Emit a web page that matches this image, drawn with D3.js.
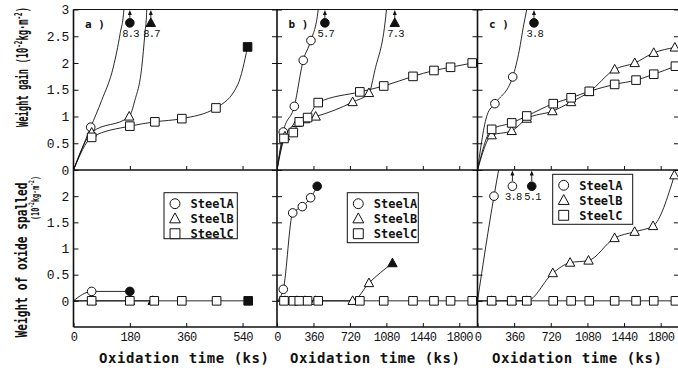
<!DOCTYPE html>
<html>
<head>
<meta charset="utf-8">
<script src="https://cdn.jsdelivr.net/npm/d3@7/dist/d3.min.js"></script>
<style>
  body { margin: 0; background: #fff; }
  svg { display: block; }
</style>
</head>
<body>
<svg id="chart" width="678" height="372"></svg>
<script>
// time in ks, weights in 10^-2 kg/m^2
const steels = ["SteelA", "SteelB", "SteelC"];
const gainTicks = [0, 0.5, 1, 1.5, 2, 2.5, 3];
const spallTicks = [0, 0.5, 1, 1.5, 2];
const timeTicksA = [0, 180, 360, 540];
const timeTicksBC = [0, 360, 720, 1080, 1440, 1800];

// "curve" = points read along the drawn line where there is no marker
// "off" = final point above the scale (value printed next to it)

// a) weight gain
const aGainA = [[55, 0.80]];
const aGainA_curve = [[90, 1.30], [127, 1.92], [149, 2.55], [161, 3.0]];
const aGainA_off = [[180, 8.3]];
const aGainB = [[58, 0.70], [178, 1.00]];
const aGainB_curve = [[196, 1.30], [218, 1.92], [228, 2.55], [234, 3.0]];
const aGainB_off = [[247, 8.7]];
const aGainC = [[58, 0.61], [180, 0.82], [260, 0.90], [346, 0.96], [455, 1.16]];
const aGainC_curve = [[525, 1.60]];
const aGainC_end = [[556, 2.30]];
// a) oxide spalled
const aSpallA = [[58, 0.18]];
const aSpallA_end = [[180, 0.18]];
const aSpallB = [[58, 0], [180, 0]];
const aSpallB_end = [[253, 0]];
const aSpallC = [[58, 0], [180, 0], [258, 0], [346, 0], [457, 0]];
const aSpallC_end = [[558, 0]];

// b) weight gain
const bGainA = [[62, 0.71], [171, 1.19], [259, 2.05], [335, 2.42]];
const bGainA_curve = [[407, 3.0]];
const bGainA_off = [[473, 5.7]];
const bGainB = [[79, 0.63], [197, 0.88], [276, 0.95], [382, 1.00], [747, 1.27], [908, 1.44]];
const bGainB_curve = [[966, 1.86], [1081, 3.0]];
const bGainB_off = [[1163, 7.3]];
const bGainC = [[69, 0.59], [161, 0.70], [220, 0.90], [302, 0.98], [407, 1.26], [818, 1.46],
  [1054, 1.57], [1343, 1.75], [1550, 1.86], [1714, 1.92], [1928, 2.00]];
// b) oxide spalled
const bSpallA = [[62, 0.22], [155, 1.68], [250, 1.80], [332, 1.97]];
const bSpallA_end = [[397, 2.19]];
const bSpallB = [[79, 0], [197, 0], [276, 0], [382, 0], [747, 0], [908, 0.34]];
const bSpallB_end = [[1140, 0.72]];
const bSpallC = [[69, 0], [161, 0], [220, 0], [302, 0], [407, 0], [818, 0],
  [1054, 0], [1343, 0], [1550, 0], [1714, 0], [1928, 0]];
const bSpallC_curve = [[1980, 0]];

// c) weight gain
const cGainA = [[171, 1.24], [346, 1.74]];
const cGainA_curve = [[95, 1.03], [411, 2.24], [450, 2.67], [484, 3.0]];
const cGainA_off = [[555, 3.8]];
const cGainB = [[139, 0.65], [336, 0.73], [484, 0.96], [736, 1.10], [920, 1.27], [1098, 1.46],
  [1348, 1.88], [1545, 2.00], [1732, 2.19], [1939, 2.29]];
const cGainC = [[139, 0.76], [336, 0.88], [484, 1.01], [744, 1.24], [920, 1.35], [1098, 1.47],
  [1348, 1.60], [1558, 1.68], [1732, 1.79], [1945, 1.94]];
// c) oxide spalled
const cSpallA = [[162, 2.0]];
const cSpallA_offOpen = [[343, 3.8]];
const cSpallA_off = [[533, 5.1]];
const cSpallB = [[139, 0], [336, 0], [484, 0], [740, 0.53], [910, 0.73], [1091, 0.77],
  [1347, 1.20], [1544, 1.32], [1725, 1.43], [1935, 2.40]];
const cSpallC = [[139, 0], [336, 0], [484, 0], [744, 0], [920, 0], [1098, 0],
  [1348, 0], [1558, 0], [1732, 0], [1945, 0]];
const cSpallC_curve = [[1980, 0]];

// level where off-scale points are parked
const offLevel = { gain: 2.75, spall: 2.19 };

const series = [
  { panel: "a", row: "gain", steel: 0, open: aGainA, curve: aGainA_curve, off: aGainA_off },
  { panel: "a", row: "gain", steel: 1, open: aGainB, curve: aGainB_curve, off: aGainB_off },
  { panel: "a", row: "gain", steel: 2, open: aGainC, curve: aGainC_curve, end: aGainC_end },
  { panel: "a", row: "spall", steel: 0, open: aSpallA, end: aSpallA_end },
  { panel: "a", row: "spall", steel: 1, open: aSpallB, end: aSpallB_end },
  { panel: "a", row: "spall", steel: 2, open: aSpallC, end: aSpallC_end },
  { panel: "b", row: "gain", steel: 0, open: bGainA, curve: bGainA_curve, off: bGainA_off },
  { panel: "b", row: "gain", steel: 1, open: bGainB, curve: bGainB_curve, off: bGainB_off },
  { panel: "b", row: "gain", steel: 2, open: bGainC },
  { panel: "b", row: "spall", steel: 0, open: bSpallA, end: bSpallA_end },
  { panel: "b", row: "spall", steel: 1, open: bSpallB, end: bSpallB_end },
  { panel: "b", row: "spall", steel: 2, open: bSpallC, curve: bSpallC_curve },
  { panel: "c", row: "gain", steel: 0, open: cGainA, curve: cGainA_curve, off: cGainA_off },
  { panel: "c", row: "gain", steel: 1, open: cGainB },
  { panel: "c", row: "gain", steel: 2, open: cGainC },
  { panel: "c", row: "spall", steel: 0, open: cSpallA, offOpen: cSpallA_offOpen, off: cSpallA_off },
  { panel: "c", row: "spall", steel: 1, open: cSpallB },
  { panel: "c", row: "spall", steel: 2, open: cSpallC, curve: cSpallC_curve },
];

// ---- layout ----
const ink = "#111";
const monoFont = "'Liberation Mono', 'DejaVu Sans Mono', monospace";
const boldFont = "'DejaVu Sans Mono', monospace";

const panels = [
  { key: "a", left: 73.5, right: 277, tmax: 650, ticks: timeTicksA, titleX: 184,
    legend: { x: 164, y: 192.7, w: 73.3, h: 46 } },
  { key: "b", left: 277, right: 477.5, tmax: 1980, ticks: timeTicksBC, titleX: 375,
    legend: { x: 347.3, y: 192.7, w: 71, h: 50 } },
  { key: "c", left: 477.5, right: 679, tmax: 1980, ticks: timeTicksBC, titleX: 577,
    legend: { x: 552.7, y: 174.3, w: 80, h: 50 } },
];
panels.forEach(p => {
  p.x = d3.scaleLinear().domain([0, p.tmax]).range([p.left, p.right]);
});
const panelBy = Object.fromEntries(panels.map(p => [p.key, p]));

const yScale = {
  gain: d3.scaleLinear().domain([0, 3]).range([170, 9.5]),
  spall: d3.scaleLinear().domain([-0.5, 2.5]).range([327, 170]),
};

const svg = d3.select("#chart");

function shapePath(k, s = 1) {
  if (k === 0) {
    const r = 4.3 * s;
    return `M${r},0A${r},${r} 0 1,1 ${-r},0A${r},${r} 0 1,1 ${r},0Z`;
  }
  if (k === 1) {
    const h = 4.7 * s;
    return `M0,${-5 * s}L${h},${3.6 * s}L${-h},${3.6 * s}Z`;
  }
  const a = 4.3 * s;
  return `M${-a},${-a}H${a}V${a}H${-a}Z`;
}

// clip paths
const defs = svg.append("defs");
panels.forEach(p => {
  ["gain", "spall"].forEach(row => {
    const r = yScale[row].range();
    defs.append("clipPath").attr("id", `clip-${p.key}-${row}`)
      .append("rect")
      .attr("x", p.left).attr("y", r[1])
      .attr("width", p.right - p.left).attr("height", r[0] - r[1]);
  });
});

// ---- axes / ticks ----
panels.forEach((p, i) => {
  const inner = p.ticks.filter(t => t > 0);

  // bottom of weight-gain plot
  svg.append("g")
    .attr("transform", `translate(0,${yScale.gain(0)})`)
    .call(d3.axisBottom(p.x).tickValues(inner).tickSize(-4).tickFormat(""));

  // bottom of spall plot, labelled
  svg.append("g")
    .attr("class", "xlab")
    .attr("transform", `translate(0,${yScale.spall(-0.5)})`)
    .call(d3.axisBottom(p.x).tickValues(p.ticks).tickSize(-4).tickPadding(5)
      .tickFormat(d3.format("d")));

  ["gain", "spall"].forEach(row => {
    const vals = row === "gain" ? gainTicks : spallTicks;
    const left = d3.axisLeft(yScale[row]).tickValues(vals).tickSize(-5);
    if (i === 0) left.tickPadding(4.5).tickFormat(d3.format(""));
    else left.tickFormat("");
    svg.append("g").attr("class", i === 0 ? "ylab" : "")
      .attr("transform", `translate(${p.left},0)`).call(left);
    svg.append("g")
      .attr("transform", `translate(${p.right},0)`)
      .call(d3.axisRight(yScale[row]).tickValues(vals).tickSize(-5).tickFormat(""));
  });
});

svg.selectAll(".domain").remove();
svg.selectAll(".tick line").attr("stroke", ink).attr("stroke-width", 1);
svg.selectAll(".xlab text").attr("font-family", monoFont).attr("font-size", 12)
  .attr("letter-spacing", -0.7).attr("fill", ink);
svg.selectAll(".ylab text").attr("font-family", monoFont).attr("font-size", 13)
  .attr("letter-spacing", -0.4).attr("fill", ink);

// ---- frames ----
const frame = svg.append("g").attr("stroke", ink).attr("fill", "none");
const x0 = panels[0].left, x1 = panels[2].right;
frame.append("line").attr("x1", x0).attr("x2", x1)
  .attr("y1", yScale.gain(3)).attr("y2", yScale.gain(3)).attr("stroke-width", 1);
frame.append("line").attr("x1", x0).attr("x2", x1)
  .attr("y1", yScale.gain(0)).attr("y2", yScale.gain(0)).attr("stroke-width", 1.4);
frame.append("line").attr("x1", x0).attr("x2", x1)
  .attr("y1", yScale.spall(-0.5)).attr("y2", yScale.spall(-0.5)).attr("stroke-width", 1.6);
panels.forEach(p => {
  frame.append("line").attr("x1", p.left).attr("x2", p.left)
    .attr("y1", yScale.gain(3)).attr("y2", yScale.spall(-0.5)).attr("stroke-width", 1.6);
});

// ---- series ----
const lineLayer = svg.append("g");
const markLayer = svg.append("g");

series.forEach(s => {
  const p = panelBy[s.panel];
  const y = yScale[s.row];
  const pts = [[0, 0]].concat(s.open, s.end || [], s.curve || [], s.offOpen || [], s.off || [])
    .sort((a, b) => a[0] - b[0]);

  lineLayer.append("path")
    .attr("clip-path", `url(#clip-${s.panel}-${s.row})`)
    .attr("fill", "none").attr("stroke", ink).attr("stroke-width", 0.9)
    .attr("d", d3.line().x(d => p.x(d[0])).y(d => y(d[1])).curve(d3.curveMonotoneX)(pts));

  const put = (list, filled) => {
    markLayer.selectAll(null).data(list).enter().append("path")
      .attr("transform", d => `translate(${p.x(d[0])},${y(d[1])})`)
      .attr("d", shapePath(s.steel))
      .attr("fill", filled ? ink : "#fff").attr("stroke", ink).attr("stroke-width", 1);
  };
  put(s.open, false);
  if (s.end) put(s.end, true);

  const offMark = (list, filled) => {
    const yv = y(offLevel[s.row]);
    const top = y.range()[1];
    list.forEach(d => {
      const xv = p.x(d[0]);
      markLayer.append("line")
        .attr("x1", xv).attr("x2", xv).attr("y1", yv - 5).attr("y2", top + 3)
        .attr("stroke", ink).attr("stroke-width", 0.9);
      markLayer.append("path")
        .attr("d", `M${xv},${top + 0.5}L${xv - 2},${top + 5.5}L${xv + 2},${top + 5.5}Z`)
        .attr("fill", ink);
      markLayer.append("path")
        .attr("transform", `translate(${xv},${yv})`)
        .attr("d", shapePath(s.steel))
        .attr("fill", filled ? ink : "#fff").attr("stroke", ink).attr("stroke-width", 1);
      markLayer.append("text")
        .attr("x", xv - 7.5).attr("y", yv + 14)
        .attr("font-family", monoFont).attr("font-size", 10.5).attr("letter-spacing", -0.8)
        .attr("fill", ink)
        .text(d3.format(".1f")(d[1]));
    });
  };
  if (s.offOpen) offMark(s.offOpen, false);
  if (s.off) offMark(s.off, true);
});

// ---- panel letters, legends, axis titles ----
panels.forEach(p => {
  svg.append("text")
    .attr("x", p.left + 11.5).attr("y", 28)
    .attr("font-family", boldFont).attr("font-weight", "bold").attr("font-size", 11)
    .attr("fill", ink).text(`${p.key} )`);

  const L = p.legend;
  const lg = svg.append("g").attr("transform", `translate(${L.x},${L.y})`);
  lg.append("rect").attr("width", L.w).attr("height", L.h)
    .attr("fill", "#fff").attr("stroke", ink).attr("stroke-width", 1);
  steels.forEach((name, k) => {
    const yy = 11 + k * 15;
    lg.append("path").attr("transform", `translate(11,${yy})`)
      .attr("d", shapePath(k, 1.15))
      .attr("fill", "#fff").attr("stroke", ink).attr("stroke-width", 1);
    lg.append("text").attr("x", 26.5).attr("y", yy + 4.3)
      .attr("font-family", boldFont).attr("font-weight", "bold").attr("font-size", 12)
      .attr("fill", ink).text(name);
  });

  svg.append("text")
    .attr("x", p.titleX).attr("y", 363)
    .attr("text-anchor", "middle")
    .attr("font-family", boldFont).attr("font-weight", "bold").attr("font-size", 14)
    .attr("textLength", 170).attr("lengthAdjust", "spacing")
    .attr("fill", ink).text("Oxidation time (ks)");
});

function unitTitle(sel, size) {
  sel.append("tspan").text("(10");
  sel.append("tspan").attr("font-size", size * 0.68).attr("dy", -size * 0.42).text("-2");
  sel.append("tspan").attr("dy", size * 0.42).text("kg·m");
  sel.append("tspan").attr("font-size", size * 0.68).attr("dy", -size * 0.42).text("-2");
  sel.append("tspan").attr("dy", size * 0.42).text(")");
}

const t1 = svg.append("text")
  .attr("transform", "translate(28,67) rotate(-90)")
  .attr("text-anchor", "middle")
  .attr("font-family", boldFont).attr("font-weight", "bold").attr("font-size", 15)
  .attr("textLength", 120).attr("lengthAdjust", "spacingAndGlyphs")
  .attr("fill", ink);
t1.append("tspan").text("Weight gain ");
unitTitle(t1, 15);

svg.append("text")
  .attr("transform", "translate(26.5,260) rotate(-90)")
  .attr("text-anchor", "middle")
  .attr("font-family", boldFont).attr("font-weight", "bold").attr("font-size", 15)
  .attr("textLength", 155).attr("lengthAdjust", "spacingAndGlyphs")
  .attr("fill", ink).text("Weight of oxide spalled");

const t3 = svg.append("text")
  .attr("transform", "translate(39,198) rotate(-90)")
  .attr("text-anchor", "middle")
  .attr("font-family", boldFont).attr("font-weight", "bold").attr("font-size", 11)
  .attr("textLength", 44).attr("lengthAdjust", "spacingAndGlyphs")
  .attr("fill", ink);
unitTitle(t3, 11);
</script>
</body>
</html>
